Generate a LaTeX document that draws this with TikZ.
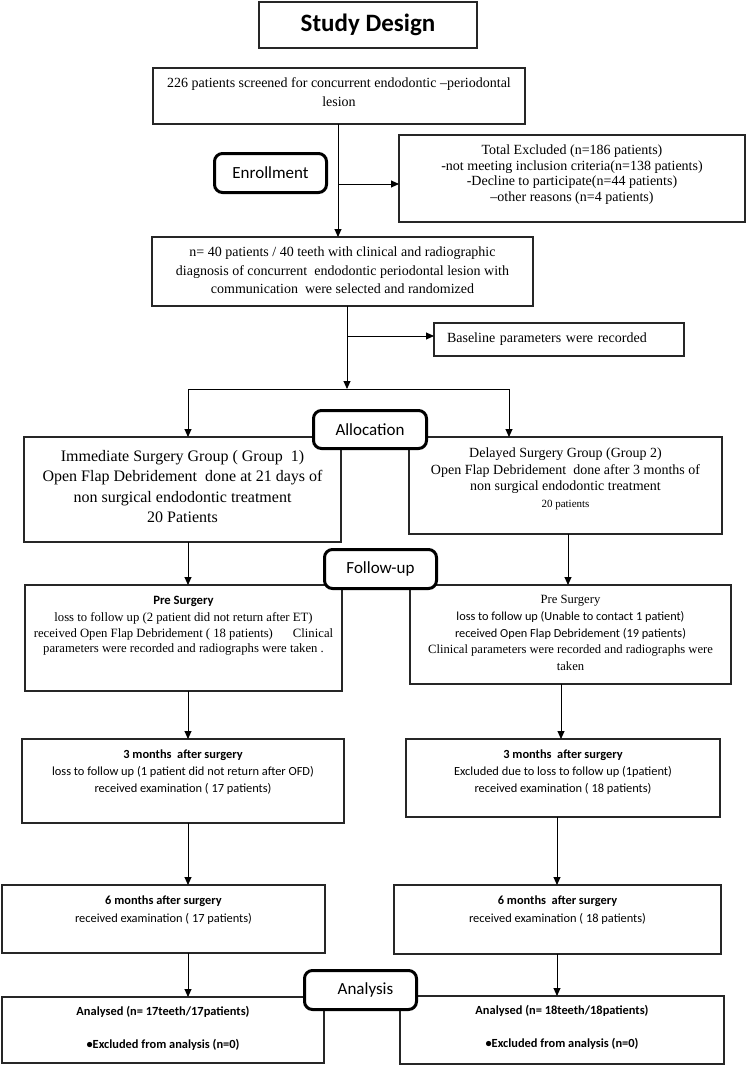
\documentclass[tikz,border=0pt]{standalone}
\usepackage{fontspec}
\setmainfont{Liberation Serif}
\newfontfamily\calfont{Carlito}
\usetikzlibrary{arrows.meta}
\tikzset{
  box/.style={draw=black!85, line width=1.2pt, inner sep=0pt, outer sep=0pt},
  rbox/.style={draw=black, line width=3pt, rounded corners=8pt, fill=white, inner sep=0pt,
     font=\calfont\fontsize{17}{20}\selectfont},
  arr/.style={line width=0.9pt, -{Triangle[length=8pt,width=7pt]}},
  ln/.style={line width=0.9pt}
}
\newcommand\mybox[7]{%
  \pgfmathsetmacro\bw{#4-#2}%
  \pgfmathsetmacro\bh{#5-#3}%
  \node[box, anchor=north west] (#1) at (#2,#3)
    {\parbox[c][\bh pt][t]{\bw pt}{\centering\vspace*{#6pt}#7\par}};}
\begin{document}
\begin{tikzpicture}[x=1pt,y=-1pt]
\useasboundingbox (0,0) rectangle (750,1066);
% title
\node[box, minimum width=218pt, minimum height=46pt, anchor=north west,
  font=\calfont\bfseries\fontsize{25}{30}\selectfont] (title) at (259,2) {Study Design};
% boxes
\mybox{scr}{153}{68}{525}{124}{9.2}{\fontsize{14}{19}\selectfont
  226 patients screened for concurrent endodontic –periodontal\\lesion}
\mybox{exc}{399}{135}{745}{222}{9.5}{\fontsize{14}{15.8}\selectfont
  Total Excluded (n=186 patients)\\-not meeting inclusion criteria(n=138 patients)\\-Decline to participate(n=44 patients)\\–other reasons (n=4 patients)}
\mybox{sel}{152}{237}{533}{306}{10.2}{\fontsize{14}{18.5}\selectfont
  n= 40 patients / 40 teeth with clinical and radiographic\\diagnosis of concurrent\ \ endodontic periodontal lesion with\\communication\ \ were selected and randomized}
\node[box, anchor=north west, text width=224pt, minimum height=33pt, inner xsep=13pt,
  align=left, font=\fontsize{14}{17}\selectfont] (base) at (434,323) {Baseline parameters were recorded};
\mybox{g1}{24}{437}{341}{542}{13.5}{\fontsize{16}{20.3}\selectfont
  Immediate Surgery Group ( Group\ \ 1)\\Open Flap Debridement\ \ done at 21 days of\\non surgical endodontic treatment\\20 Patients}
\mybox{g2}{409}{437}{722}{534}{11}{\fontsize{14}{16.5}\selectfont
  Delayed Surgery Group (Group 2)\\Open Flap Debridement\ \ done after 3 months of\\non surgical endodontic treatment\\{\fontsize{11}{15}\selectfont 20 patients}}
\mybox{pl}{25}{585}{342}{691}{11}{\fontsize{12.7}{15.5}\selectfont
  {\calfont\bfseries Pre Surgery}\\[2pt]loss to follow up (2 patient did not return after ET)\\received Open Flap Debridement ( 18 patients)\hspace{20pt}Clinical\\parameters were recorded and radiographs were taken .}
\mybox{pr}{410}{585}{731}{684}{10.5}{\fontsize{12.6}{16.7}\selectfont
  Pre Surgery\\{\calfont\fontsize{12.3}{16.7}\selectfont loss to follow up (Unable to contact 1 patient)}\\{\calfont\fontsize{12.3}{16.7}\selectfont received Open Flap Debridement (19 patients)}\\Clinical parameters were recorded and radiographs were\\taken}
\mybox{tl}{22}{739}{344}{823}{10.4}{\calfont\fontsize{12.4}{17}\selectfont
  {\bfseries 3 months\ \ after surgery}\\loss to follow up (1 patient did not return after OFD)\\received examination ( 17 patients)}
\mybox{tr}{406}{739}{720}{817}{10.4}{\calfont\fontsize{12.4}{17}\selectfont
  {\bfseries 3 months\ \ after surgery}\\Excluded due to loss to follow up (1patient)\\received examination ( 18 patients)}
\mybox{sl}{2}{885}{325}{953}{10.4}{\calfont\fontsize{12.4}{18}\selectfont
  {\bfseries 6 months after surgery}\\received examination ( 17 patients)}
\mybox{sr}{394}{885}{721}{954}{10.4}{\calfont\fontsize{12.4}{18}\selectfont
  {\bfseries 6 months\ \ after surgery}\\received examination ( 18 patients)}
\mybox{al}{2}{997}{324}{1063}{9.4}{\calfont\bfseries\fontsize{12.4}{33}\selectfont
  Analysed (n= 17teeth/17patients)\\•Excluded from analysis (n=0)}
\mybox{ar}{400}{996}{724}{1064}{9.4}{\calfont\bfseries\fontsize{12.4}{33}\selectfont
  Analysed (n= 18teeth/18patients)\\•Excluded from analysis (n=0)}
% connector coordinates
\coordinate (s1) at (338,184);
\coordinate (s2) at (347,336);
\coordinate (jn) at (347,389);
\coordinate (jl) at (188,389);
\coordinate (jr) at (509,389);
\coordinate (L) at (188,0);
\coordinate (R1) at (568,0);
\coordinate (R2) at (561,0);
\coordinate (R3) at (557,0);
% connectors
\draw[arr] (scr.south -| s1) -- (sel.north -| s1);
\draw[arr] (s1) -- (exc.west |- s1);
\draw[arr] (sel.south -| jn) -- (jn);
\draw[arr] (s2) -- (base.west |- s2);
\draw[ln] (jl) -- (jr);
\draw[arr] (jl) -- (g1.north -| jl);
\draw[arr] (jr) -- (g2.north -| jr);
\draw[arr] (g1.south -| L) -- (pl.north -| L);
\draw[arr] (g2.south -| R1) -- (pr.north -| R1);
\draw[arr] (pl.south -| L) -- (tl.north -| L);
\draw[arr] (pr.south -| R2) -- (tr.north -| R2);
\draw[arr] (tl.south -| L) -- (sl.north -| L);
\draw[arr] (tr.south -| R3) -- (sr.north -| R3);
\draw[arr] (sl.south -| L) -- (al.north -| L);
\draw[arr] (sr.south -| R3) -- (ar.north -| R3);
% stage labels
\node[rbox, minimum width=112pt, minimum height=39pt, anchor=north west] (enr) at (213,152) {Enrollment};
\node[rbox, minimum width=113pt, minimum height=38pt, anchor=north west] (alc) at (312,409) {Allocation};
\node[rbox, minimum width=112pt, minimum height=39pt, anchor=north west] (fup) at (323,548) {Follow-up};
\node[rbox, minimum width=112pt, minimum height=39pt, anchor=north west] (ana) at (303,969) {\hspace*{10pt}Analysis};
\end{tikzpicture}
\end{document}
